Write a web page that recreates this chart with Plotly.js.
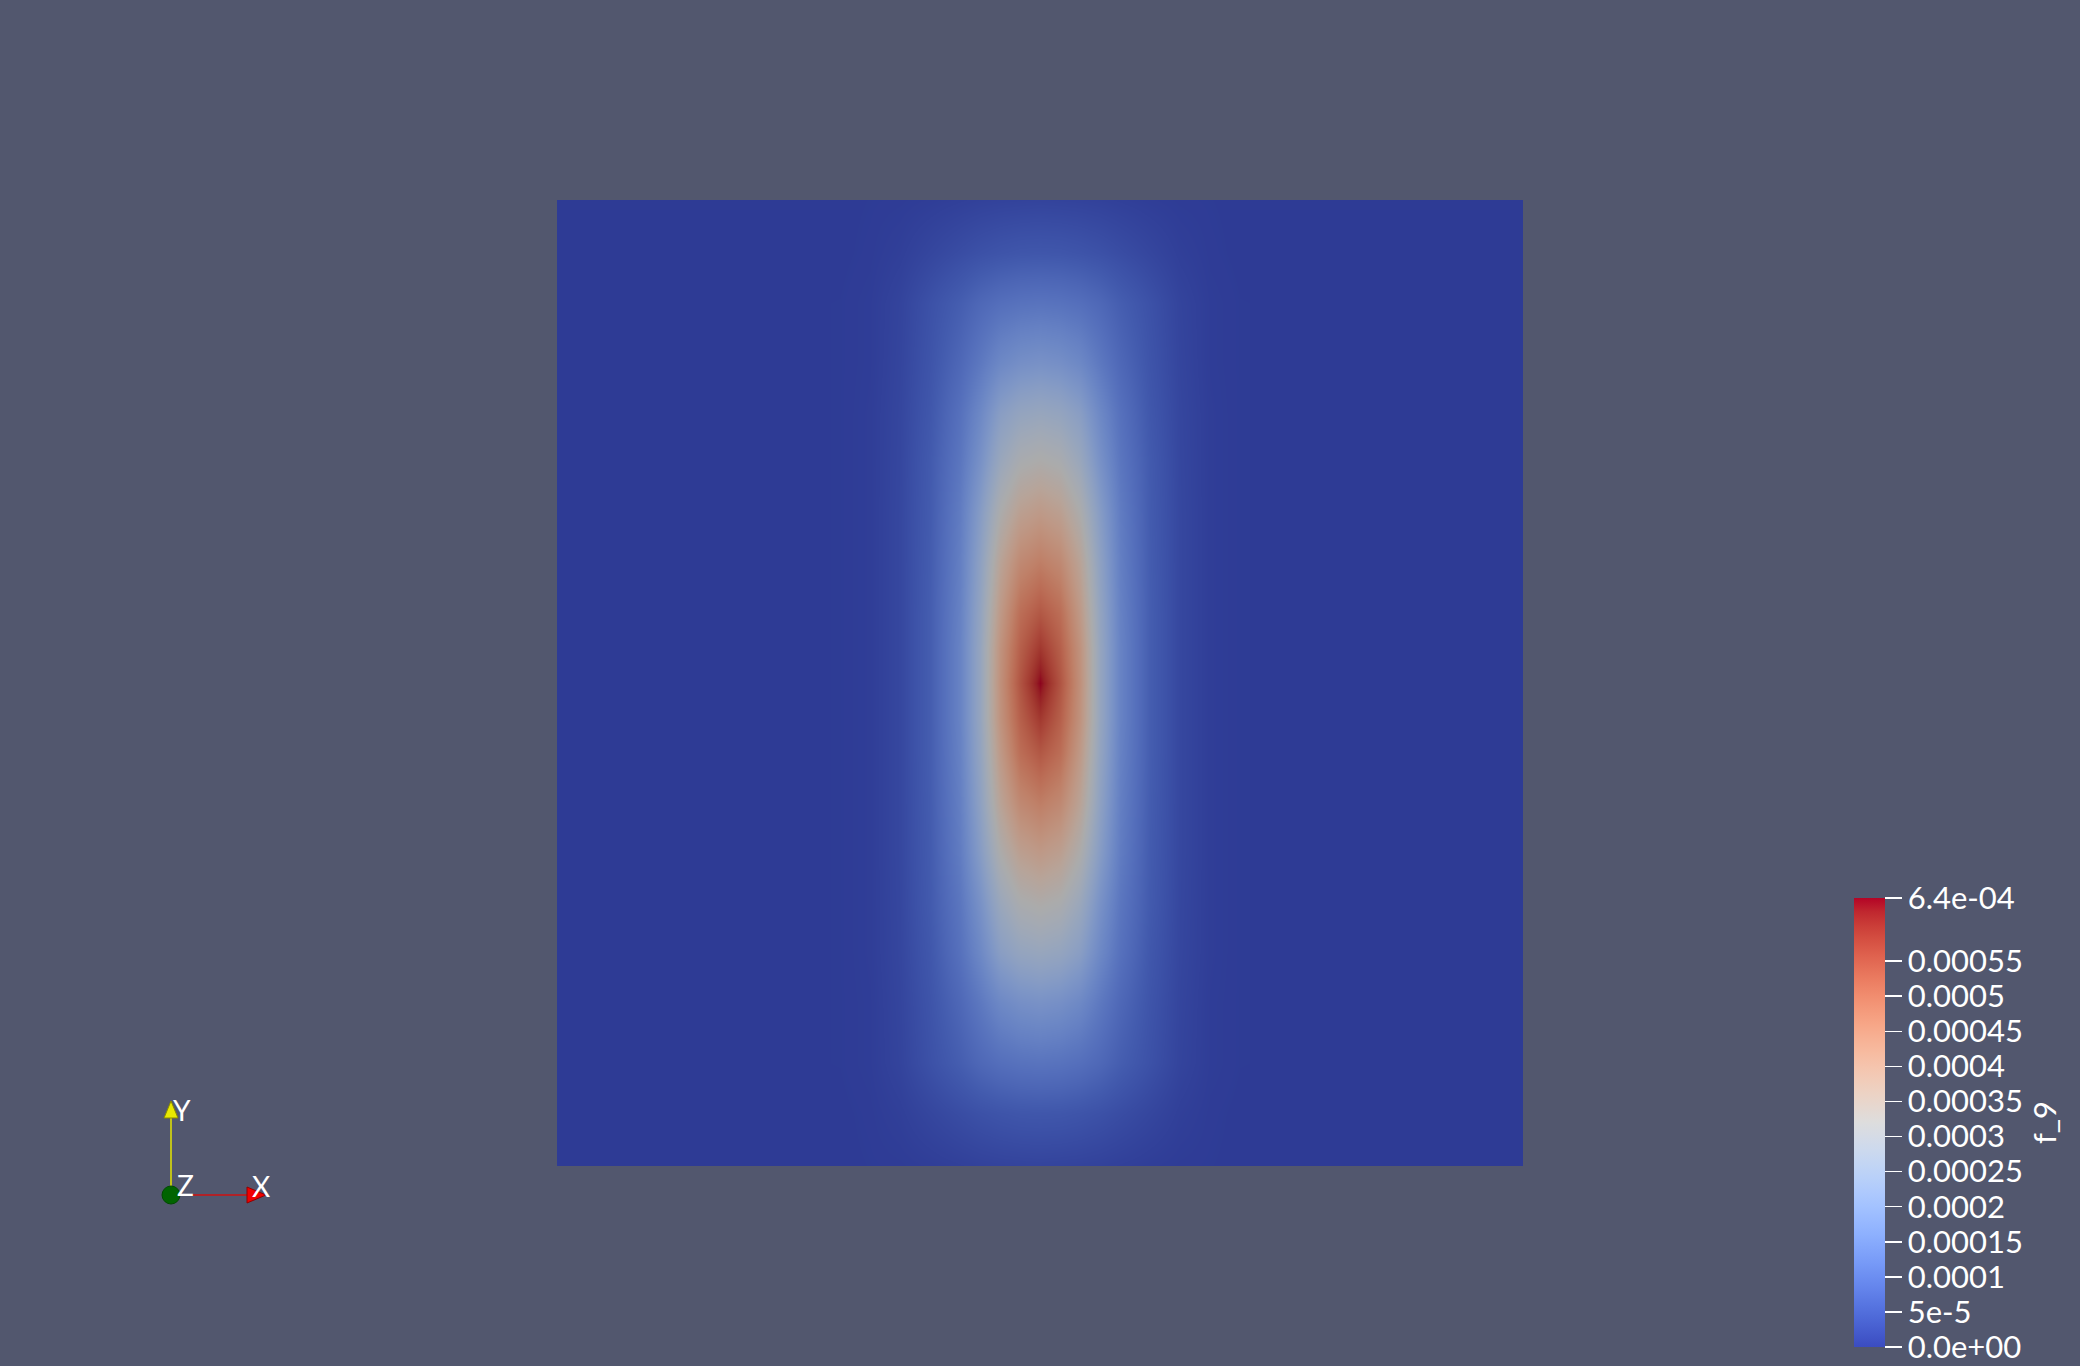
<!DOCTYPE html>
<html><head><meta charset="utf-8">
<script src="https://cdn.plot.ly/plotly-3.0.1.min.js"></script>
<style>html,body{margin:0;padding:0;background:#52576e;}#chart{width:2080px;height:1366px;}</style>
</head><body><div id="chart"></div>
<script>
// ---- data (field f_9 sampled on a non-uniform grid, values in units of 1e-5) ----
const xCoords = [-483,-300,-200,-170,-140,-110,-80,-60,-40,-20,0,20,40,60,80,110,140,170,200,300,483];
const yCoords = [-483,-430,-380,-320,-270,-220,-170,-120,-70,-35,0,35,70,120,170,220,270,320,380,430,483];
const zUnit = 1e-5;
const zRows = [
 [0,0,0,0.1,0.2,0.5,0.9,1.2,1.4,1.5,1.6,1.5,1.4,1.2,0.9,0.5,0.2,0.1,0,0,0],
 [0,0,0,0.2,0.8,2.0,3.2,4.0,4.6,5.0,5.1,5.0,4.6,4.0,3.2,2.0,0.8,0.2,0,0,0],
 [0,0,0.1,0.4,1.6,4.0,6.5,8.6,10.1,10.9,11.2,10.9,10.1,8.6,6.5,4.0,1.6,0.4,0.1,0,0],
 [0,0,0.1,0.4,1.8,4.6,8.6,12.2,16.0,17.9,18.6,17.9,16.0,12.2,8.6,4.6,1.8,0.4,0.1,0,0],
 [0,0,0.1,0.5,2.0,5.2,10.6,16.0,22.4,25.3,26.2,25.3,22.4,16.0,10.6,5.2,2.0,0.5,0.1,0,0],
 [0,0,0.1,0.5,2.1,5.8,11.8,18.6,26.9,31.4,32.6,31.4,26.9,18.6,11.8,5.8,2.1,0.5,0.1,0,0],
 [0,0,0.1,0.5,2.2,6.0,13.1,21.8,32.0,37.8,39.7,37.8,32.0,21.8,13.1,6.0,2.2,0.5,0.1,0,0],
 [0,0,0.1,0.5,2.2,6.2,13.8,23.7,36.5,44.2,46.7,44.2,36.5,23.7,13.8,6.2,2.2,0.5,0.1,0,0],
 [0,0,0.1,0.5,2.2,6.4,14.4,25.0,39.7,49.9,53.8,49.9,39.7,25.0,14.4,6.4,2.2,0.5,0.1,0,0],
 [0,0,0.1,0.5,2.2,6.4,14.7,25.6,41.6,52.5,58.9,52.5,41.6,25.6,14.7,6.4,2.2,0.5,0.1,0,0],
 [0,0,0.1,0.5,2.2,6.4,14.7,25.6,42.2,54.4,64.0,54.4,42.2,25.6,14.7,6.4,2.2,0.5,0.1,0,0],
 [0,0,0.1,0.5,2.2,6.4,14.7,25.6,41.6,52.5,58.9,52.5,41.6,25.6,14.7,6.4,2.2,0.5,0.1,0,0],
 [0,0,0.1,0.5,2.2,6.4,14.4,25.0,39.7,49.9,53.8,49.9,39.7,25.0,14.4,6.4,2.2,0.5,0.1,0,0],
 [0,0,0.1,0.5,2.2,6.2,13.8,23.7,36.5,44.2,46.7,44.2,36.5,23.7,13.8,6.2,2.2,0.5,0.1,0,0],
 [0,0,0.1,0.5,2.2,6.0,13.1,21.8,32.0,37.8,39.7,37.8,32.0,21.8,13.1,6.0,2.2,0.5,0.1,0,0],
 [0,0,0.1,0.5,2.1,5.8,11.8,18.6,26.9,31.4,32.6,31.4,26.9,18.6,11.8,5.8,2.1,0.5,0.1,0,0],
 [0,0,0.1,0.5,2.0,5.2,10.6,16.0,22.4,25.3,26.2,25.3,22.4,16.0,10.6,5.2,2.0,0.5,0.1,0,0],
 [0,0,0.1,0.4,1.8,4.6,8.6,12.2,16.0,17.9,18.6,17.9,16.0,12.2,8.6,4.6,1.8,0.4,0.1,0,0],
 [0,0,0.1,0.4,1.6,4.0,6.5,8.6,10.1,10.9,11.2,10.9,10.1,8.6,6.5,4.0,1.6,0.4,0.1,0,0],
 [0,0,0,0.2,0.8,2.0,3.2,4.0,4.6,5.0,5.1,5.0,4.6,4.0,3.2,2.0,0.8,0.2,0,0,0],
 [0,0,0,0.1,0.2,0.5,0.9,1.2,1.4,1.5,1.6,1.5,1.4,1.2,0.9,0.5,0.2,0.1,0,0,0]
];
const zMin = 0;
const zMax = 6.4e-4;
const tickVals = [0,5e-5,1e-4,1.5e-4,2e-4,2.5e-4,3e-4,3.5e-4,4e-4,4.5e-4,5e-4,5.5e-4,6.4e-4];
const tickText = ['0.0e+00','5e-5','0.0001','0.00015','0.0002','0.00025','0.0003','0.00035','0.0004','0.00045','0.0005','0.00055','6.4e-04'];
const colorbarTitle = 'f_9';

// ---- styling ----
const cwPos = [0,0.03125,0.0625,0.09375,0.125,0.15625,0.1875,0.21875,0.25,0.28125,0.3125,0.34375,0.375,0.40625,0.4375,0.46875,0.5,0.53125,0.5625,0.59375,0.625,0.65625,0.6875,0.71875,0.75,0.78125,0.8125,0.84375,0.875,0.90625,0.9375,0.96875,1];
const cwRGB = [[59,76,192],[68,90,204],[77,104,215],[87,117,225],[98,130,234],[108,142,241],[119,154,247],[130,165,251],[141,176,254],[152,185,255],[163,194,255],[174,201,253],[184,208,249],[194,213,244],[204,217,238],[213,219,230],[221,221,221],[229,216,209],[236,211,197],[241,204,185],[245,196,173],[247,187,160],[247,177,148],[247,166,135],[244,154,123],[241,141,111],[236,127,99],[229,112,88],[222,96,77],[213,80,66],[203,62,56],[192,40,47],[180,4,38]];
const shade = 0.775;
const fullCS = cwPos.map((p,i)=>[p,`rgb(${cwRGB[i].join(',')})`]);
const litCS = cwPos.map((p,i)=>[p,`rgb(${cwRGB[i].map(c=>Math.round(c*shade)).join(',')})`]);

const BG = '#52576e';
const FONT = 'Lato, "Noto Sans", sans-serif';

const zValues = zRows.map(r=>r.map(v=>v*zUnit));

// pixel helpers -> paper coords (plot area is 557..1523 x 200..1166)
const L=557, B=1166, W=966;
const PX = v => (v-L)/W, PY = v => (B-v)/W;

const field = {
  type:'heatmap', x:xCoords, y:yCoords, z:zValues,
  zmin:zMin, zmax:zMax, colorscale:litCS, zsmooth:'best',
  showscale:false, hoverinfo:'skip'
};
const scaleTrace = {
  type:'scatter', mode:'markers', x:[1e6], y:[1e6], hoverinfo:'skip', showlegend:false,
  marker:{color:[0], cmin:zMin, cmax:zMax, colorscale:fullCS, size:1, opacity:0, showscale:true,
    colorbar:{
      xref:'paper', yref:'paper', x:PX(1854), xanchor:'left',
      y:PY(1122.5), yanchor:'middle',
      len:449, lenmode:'pixels', thickness:31, thicknessmode:'pixels',
      xpad:0, ypad:0, outlinewidth:0, bgcolor:'rgba(0,0,0,0)',
      tickmode:'array', tickvals:tickVals, ticktext:tickText,
      ticks:'outside', ticklen:17, tickwidth:1.5, tickcolor:'#ffffff',
      tickfont:{family:FONT, size:31, color:'#ffffff'},
      title:{text:colorbarTitle, side:'right', font:{family:FONT, size:31, color:'#ffffff'}}
    }}
};

// orientation triad
const ox=171, oy=1195;
const shapes = [
  {type:'line', xref:'paper', yref:'paper', x0:PX(ox), y0:PY(oy), x1:PX(ox), y1:PY(1116), line:{color:'#e6e600', width:1.5}},
  {type:'line', xref:'paper', yref:'paper', x0:PX(ox), y0:PY(oy), x1:PX(249), y1:PY(oy), line:{color:'#d01010', width:1.5}},
  {type:'path', xref:'paper', yref:'paper',
   path:`M ${PX(ox)} ${PY(1101)} L ${PX(ox-7)} ${PY(1118)} L ${PX(ox+7)} ${PY(1118)} Z`,
   fillcolor:'#e8e800', line:{color:'#8a8a00', width:1}},
  {type:'path', xref:'paper', yref:'paper',
   path:`M ${PX(266)} ${PY(oy)} L ${PX(247)} ${PY(oy-8)} L ${PX(247)} ${PY(oy+8)} Z`,
   fillcolor:'#f00000', line:{color:'#900000', width:1}},
  {type:'circle', xref:'paper', yref:'paper', x0:PX(ox-9), x1:PX(ox+9), y0:PY(oy+9), y1:PY(oy-9),
   fillcolor:'#006400', line:{color:'#004a00', width:1}}
];
const lab = (t,x,y)=>({text:t, xref:'paper', yref:'paper', x:PX(x), y:PY(y), xanchor:'left', yanchor:'middle',
  showarrow:false, font:{family:FONT, size:28, color:'#ffffff'}});
const annotations = [lab('Y',171,1110), lab('Z',175,1185), lab('X',250,1186)];

const layout = {
  width:2080, height:1366,
  paper_bgcolor:BG, plot_bgcolor:BG,
  margin:{l:557, r:557, t:200, b:200, pad:0, autoexpand:false},
  xaxis:{range:[-483,483], visible:false, fixedrange:true},
  yaxis:{range:[-483,483], visible:false, fixedrange:true},
  showlegend:false, shapes, annotations
};
Plotly.newPlot('chart',[field, scaleTrace],layout,{staticPlot:true, displayModeBar:false});
</script></body></html>
